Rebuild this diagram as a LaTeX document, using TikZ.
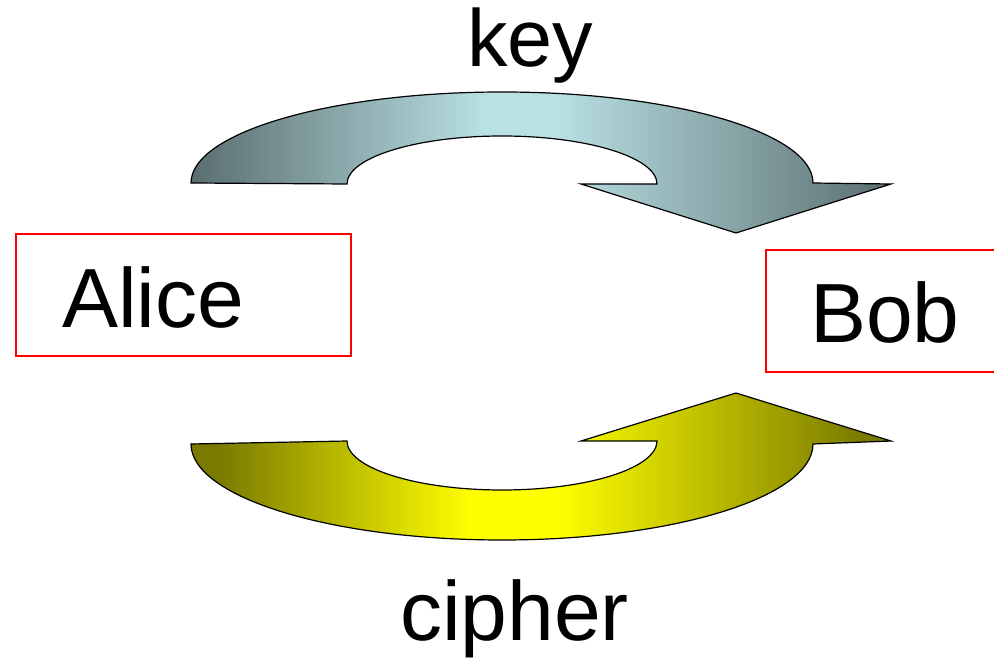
\documentclass[tikz,border=0pt]{standalone}
\usepackage{fontspec}
\setmainfont{Liberation Sans}
\definecolor{keydark}{HTML}{5A6E70}
\definecolor{keylight}{HTML}{B9E0E3}
\definecolor{ciphdark}{HTML}{7A7A00}
\definecolor{ciphlight}{HTML}{FFFF00}
\definecolor{boxred}{HTML}{FF0000}
% horizontal ramps: dark at both ends, light in a band near the middle
\pgfdeclarehorizontalshading{keyshade}{100bp}{color(0bp)=(keydark); color(25bp)=(keydark);
  color(46bp)=(keylight); color(51bp)=(keylight); color(75bp)=(keydark); color(100bp)=(keydark)}
\pgfdeclarehorizontalshading{ciphshade}{100bp}{color(0bp)=(ciphdark); color(27bp)=(ciphdark);
  color(45bp)=(ciphlight); color(51bp)=(ciphlight); color(73bp)=(ciphdark); color(100bp)=(ciphdark)}
\tikzset{
  party/.style={draw=boxred, line width=1.6pt, fill=none, inner sep=0pt},
  bigtext/.style={inner sep=0pt, anchor=base west, text=black},
  bentarrow/.style={draw=black, line width=1.2pt, line join=miter},
}
\begin{document}
\begin{tikzpicture}[x=1pt,y=1pt]
  \useasboundingbox (0,0) rectangle (994,665);
  \clip (0,0) rectangle (994,665);
  % party boxes
  \node[party, minimum width=335pt, minimum height=122pt] (alicebox) at (183.5,370) {};
  \node[party, minimum width=240pt, minimum height=122pt] (bobbox) at (886,354) {};
  \node[bigtext, font=\fontsize{84}{90}\selectfont] (alice) at (62,337) {Alice};
  \node[bigtext, font=\fontsize{84}{90}\selectfont] (bob) at (810,322) {Bob};
  % key arrow, from Alice over the top to Bob
  \path[bentarrow, shading=keyshade]
    (191,482) arc[start angle=180, end angle=0, x radius=311, y radius=91]
    -- (891,481) -- (736,432) -- (581,481) -- (657,481)
    arc[start angle=0, end angle=180, x radius=155, y radius=48] -- cycle;
  % cipher arrow, from Alice under the bottom to Bob
  \path[bentarrow, shading=ciphshade]
    (191,221) arc[start angle=180, end angle=360, x radius=311, y radius=96]
    -- (891,224) -- (736,272) -- (581,224) -- (657,224)
    arc[start angle=360, end angle=180, x radius=155, y radius=49] -- cycle;
  % labels
  \node[bigtext, font=\fontsize{81}{86}\selectfont] (key) at (467,598) {key};
  \node[bigtext, font=\fontsize{84}{90}\selectfont] (cipher) at (400,25) {cipher};
\end{tikzpicture}
\end{document}
